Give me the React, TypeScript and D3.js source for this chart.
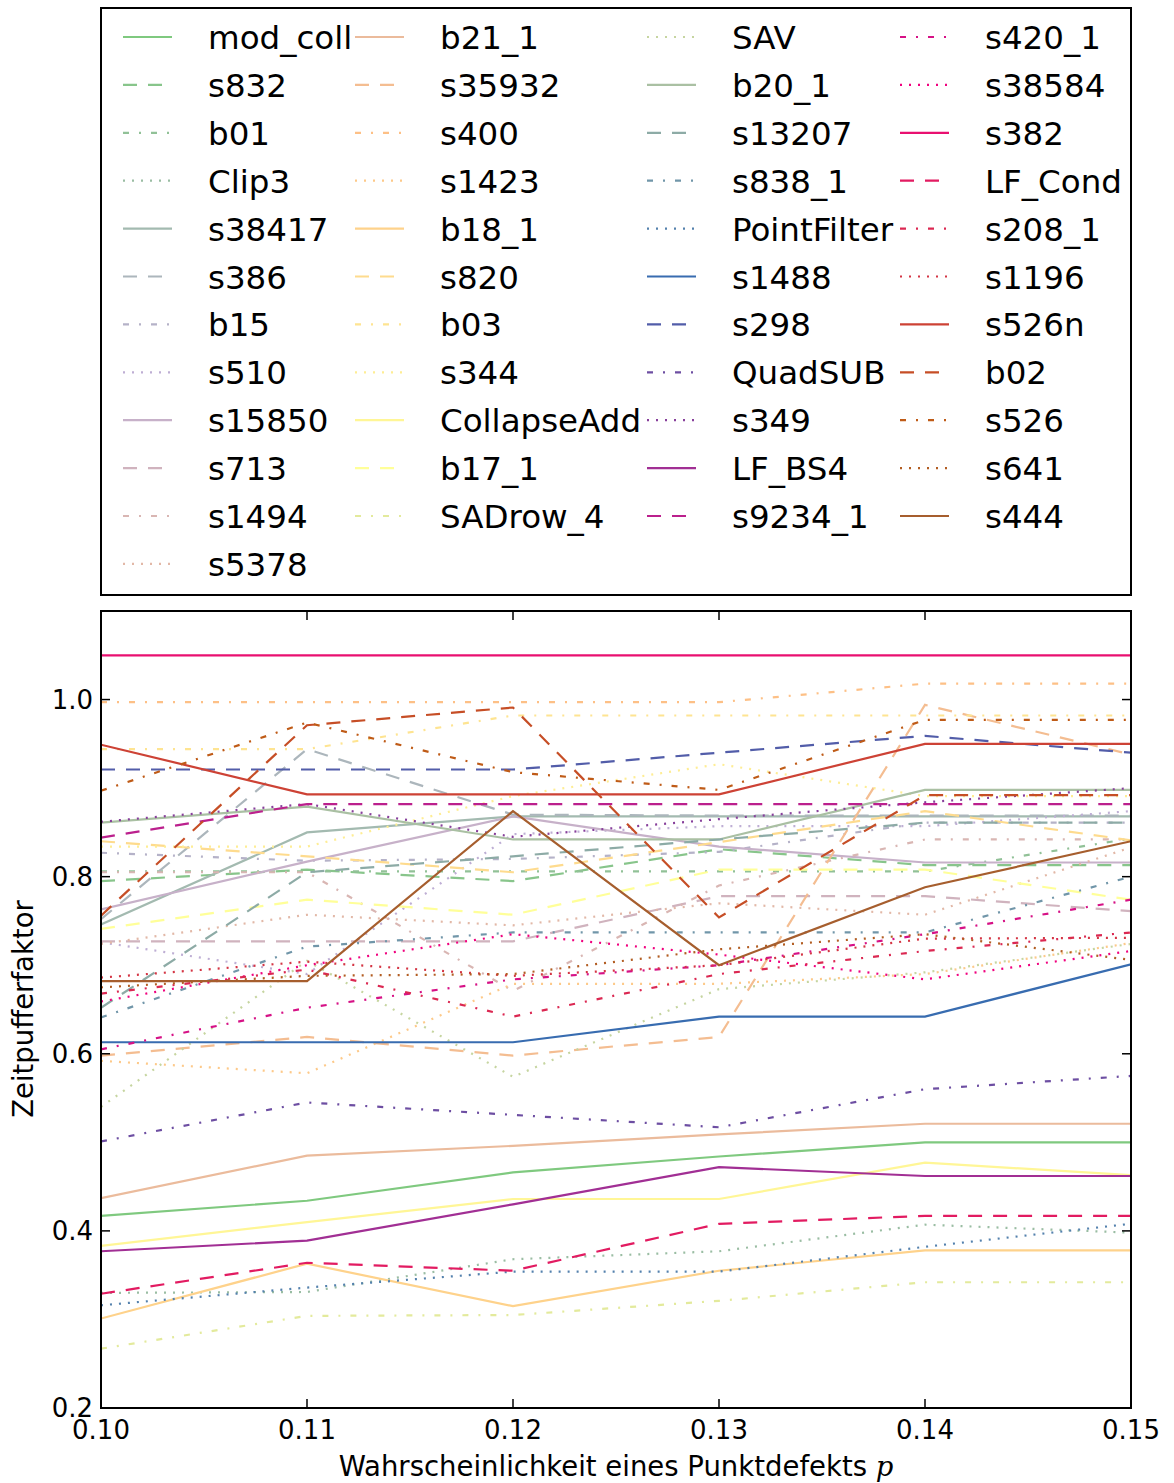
import React from 'react';
import * as d3 from 'd3';

// x positions (probability of a point defect)
const xValues = [0.10, 0.11, 0.12, 0.13, 0.14, 0.15];

const seriesNames = [
  'mod_coll', 's832', 'b01', 'Clip3', 's38417', 's386', 'b15', 's510', 's15850', 's713', 's1494', 's5378',
  'b21_1', 's35932', 's400', 's1423', 'b18_1', 's820', 'b03', 's344', 'CollapseAdd', 'b17_1', 'SADrow_4',
  'SAV', 'b20_1', 's13207', 's838_1', 'PointFilter', 's1488', 's298', 'QuadSUB', 's349', 'LF_BS4', 's9234_1',
  's420_1', 's38584', 's382', 'LF_Cond', 's208_1', 's1196', 's526n', 'b02', 's526', 's641', 's444',
];

// one row per series, same order as seriesNames
const seriesValues: number[][] = [
  [0.417, 0.434, 0.466, 0.484, 0.500, 0.500],
  [0.795, 0.808, 0.795, 0.831, 0.813, 0.813],
  [0.806, 0.806, 0.806, 0.806, 0.806, 0.843],
  [0.330, 0.331, 0.368, 0.377, 0.407, 0.398],
  [0.746, 0.850, 0.868, 0.868, 0.868, 0.868],
  [0.752, 0.944, 0.870, 0.869, 0.869, 0.869],
  [0.827, 0.818, 0.820, 0.828, 0.861, 0.861],
  [0.726, 0.690, 0.848, 0.857, 0.857, 0.874],
  [0.763, 0.817, 0.868, 0.834, 0.816, 0.816],
  [0.727, 0.727, 0.727, 0.778, 0.778, 0.761],
  [0.805, 0.805, 0.671, 0.790, 0.842, 0.842],
  [0.724, 0.757, 0.745, 0.770, 0.757, 0.833],
  [0.437, 0.485, 0.496, 0.509, 0.521, 0.521],
  [0.598, 0.619, 0.598, 0.619, 0.994, 0.938],
  [0.997, 0.997, 0.997, 0.997, 1.018, 1.018],
  [0.592, 0.578, 0.679, 0.679, 0.690, 0.725],
  [0.301, 0.363, 0.315, 0.355, 0.378, 0.378],
  [0.840, 0.823, 0.805, 0.839, 0.874, 0.841],
  [0.944, 0.944, 0.982, 0.982, 0.982, 0.982],
  [0.834, 0.834, 0.891, 0.927, 0.891, 0.891],
  [0.383, 0.410, 0.436, 0.436, 0.477, 0.463],
  [0.741, 0.774, 0.757, 0.808, 0.808, 0.774],
  [0.267, 0.304, 0.305, 0.321, 0.342, 0.342],
  [0.540, 0.705, 0.574, 0.673, 0.692, 0.724],
  [0.861, 0.879, 0.842, 0.842, 0.898, 0.898],
  [0.652, 0.805, 0.823, 0.842, 0.861, 0.861],
  [0.641, 0.721, 0.737, 0.737, 0.737, 0.800],
  [0.316, 0.336, 0.354, 0.354, 0.382, 0.408],
  [0.613, 0.613, 0.613, 0.642, 0.642, 0.701],
  [0.921, 0.921, 0.921, 0.940, 0.959, 0.940],
  [0.501, 0.545, 0.531, 0.517, 0.560, 0.575],
  [0.862, 0.882, 0.845, 0.865, 0.884, 0.900],
  [0.377, 0.389, 0.430, 0.472, 0.462, 0.462],
  [0.844, 0.882, 0.882, 0.882, 0.882, 0.882],
  [0.605, 0.652, 0.684, 0.700, 0.735, 0.774],
  [0.659, 0.700, 0.735, 0.712, 0.684, 0.716],
  [1.050, 1.050, 1.050, 1.050, 1.050, 1.050],
  [0.329, 0.364, 0.355, 0.408, 0.417, 0.417],
  [0.668, 0.695, 0.642, 0.690, 0.716, 0.737],
  [0.686, 0.704, 0.688, 0.700, 0.730, 0.731],
  [0.949, 0.893, 0.893, 0.893, 0.950, 0.950],
  [0.756, 0.971, 0.991, 0.754, 0.892, 0.892],
  [0.897, 0.974, 0.918, 0.898, 0.977, 0.977],
  [0.675, 0.688, 0.690, 0.718, 0.735, 0.706],
  [0.682, 0.682, 0.874, 0.700, 0.788, 0.840],
];

const xTicks = [0.10, 0.11, 0.12, 0.13, 0.14, 0.15];
const yTicks = [0.2, 0.4, 0.6, 0.8, 1.0];

// Accent colormap, sampled continuously
const accent = ['#7fc97f', '#beaed4', '#fdc086', '#ffff99', '#386cb0', '#f0027f', '#bf5b17', '#666666'];
const cmap = d3.piecewise(d3.interpolateRgb, accent);
const colorOf = (i: number) => cmap(i / 49);

const dashes = [null, '14,11', '6,10,2,10', '2,7'];
const dashOf = (i: number) => dashes[i % 4];

const FONT = 'DejaVu Sans, sans-serif';

const App = () => {
  const left = 101, right = 1131, top = 611, bottom = 1408;
  const x = d3.scaleLinear().domain([0.10, 0.15]).range([left, right]);
  const y = d3.scaleLinear().domain([0.2, 1.1]).range([bottom, top]);
  const line = d3.line<number>()
    .x((_, j) => x(xValues[j]))
    .y(d => y(d));

  // legend layout: 4 columns, column-major (12, 11, 11, 11)
  const colHandle = [123, 355, 647, 900];
  const colText = [208, 440, 732, 985];
  const legendItems = seriesNames.map((name, i) => {
    const c = i < 12 ? 0 : 1 + Math.floor((i - 12) / 11);
    const r = i < 12 ? i : (i - 12) % 11;
    return { name, i, c, r };
  });

  return (
    <svg width={1174} height={1483} style={{ position: 'absolute', left: 0, top: 0, background: '#fff' }}
      fontFamily={FONT}>
      <rect x={0} y={0} width={1174} height={1483} fill="#fff" />
      {/* legend */}
      <rect x={101} y={8} width={1030} height={587} fill="#fff" stroke="#000" strokeWidth={2} />
      {legendItems.map(d => {
        const yy = 37 + 47.9 * d.r;
        return (
          <g key={d.name}>
            <line x1={colHandle[d.c]} x2={colHandle[d.c] + 49} y1={yy} y2={yy}
              stroke={colorOf(d.i)} strokeWidth={2.2} strokeDasharray={dashOf(d.i) ?? undefined} />
            <text x={colText[d.c]} y={yy + 12} fontSize={32.5} fill="#000">{d.name}</text>
          </g>
        );
      })}

      {/* plot */}
      <defs>
        <clipPath id="plotclip">
          <rect x={left} y={top} width={right - left} height={bottom - top} />
        </clipPath>
      </defs>
      <g clipPath="url(#plotclip)">
        {seriesValues.map((vals, i) => (
          <path key={seriesNames[i]} d={line(vals) ?? ''} fill="none" stroke={colorOf(i)} strokeWidth={2.2}
            strokeDasharray={dashOf(i) ?? undefined} />
        ))}
      </g>
      <rect x={left} y={top} width={right - left} height={bottom - top} fill="none" stroke="#000" strokeWidth={2} />

      {/* ticks */}
      {xTicks.map(t => (
        <g key={'x' + t}>
          <line x1={x(t)} x2={x(t)} y1={bottom} y2={bottom - 9} stroke="#000" strokeWidth={1.5} />
          <line x1={x(t)} x2={x(t)} y1={top} y2={top + 9} stroke="#000" strokeWidth={1.5} />
          <text x={x(t)} y={bottom + 31} fontSize={26} textAnchor="middle">{t.toFixed(2)}</text>
        </g>
      ))}
      {yTicks.map(t => (
        <g key={'y' + t}>
          <line x1={left} x2={left + 9} y1={y(t)} y2={y(t)} stroke="#000" strokeWidth={1.5} />
          <line x1={right} x2={right - 9} y1={y(t)} y2={y(t)} stroke="#000" strokeWidth={1.5} />
          <text x={left - 8} y={y(t) + 9} fontSize={26} textAnchor="end">{t.toFixed(1)}</text>
        </g>
      ))}

      {/* axis labels */}
      <text x={616} y={1476} fontSize={27.5} textAnchor="middle">
        Wahrscheinlichkeit eines Punktdefekts <tspan fontFamily="DejaVu Serif, serif" fontStyle="italic">p</tspan>
      </text>
      <text transform="translate(33,1009) rotate(-90)" fontSize={27.5} textAnchor="middle">Zeitpufferfaktor</text>
    </svg>
  );
};

export default App;
